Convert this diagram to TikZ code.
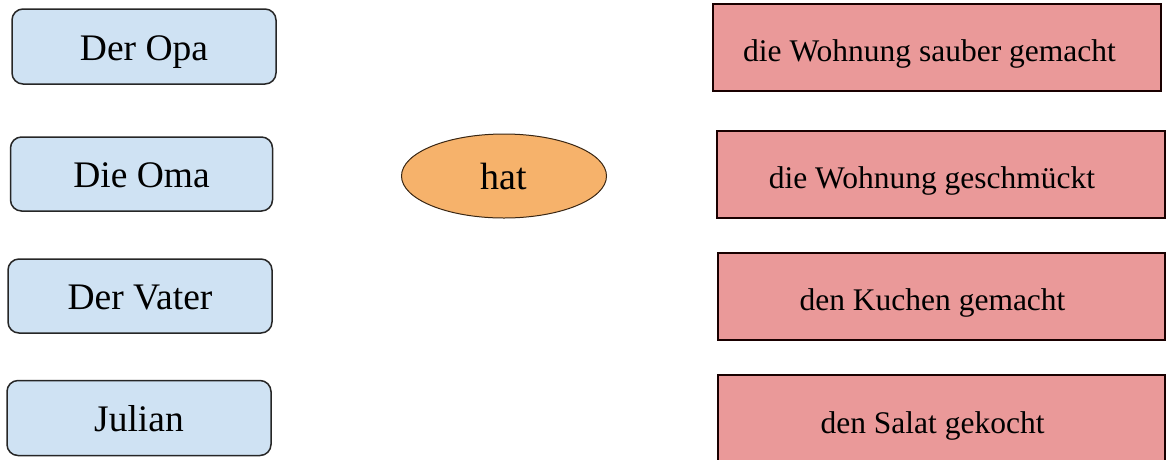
\documentclass[tikz,border=0pt]{standalone}
\usepackage{fontspec}
\setmainfont{Liberation Serif}
\usetikzlibrary{shapes.geometric}
\definecolor{subjblue}{HTML}{CFE2F3}
\definecolor{verborange}{HTML}{F6B26B}
\definecolor{objred}{HTML}{EA9999}
\tikzset{
  subj/.style={draw=black!85, line width=1.5pt, fill=subjblue, rounded corners=11pt,
    inner sep=0pt, text height=27pt, text depth=0pt, font=\fontsize{37.5}{40}\selectfont},
  verb/.style={ellipse, draw=black!70!brown, line width=1pt, fill=verborange,
    inner sep=0pt, minimum width=205pt, minimum height=84pt, font=\fontsize{38}{40}\selectfont},
  obj/.style={draw=black!90!red, line width=2pt, fill=objred,
    inner sep=0pt, text height=29pt, text depth=0pt, font=\fontsize{31.5}{36}\selectfont},
}
\begin{document}
\begin{tikzpicture}[x=1pt,y=-1pt]
\useasboundingbox (0,0) rectangle (1166,459);
% subjects
\node[subj, minimum width=264pt, minimum height=75pt] (opa) at (144,46.5) {Der Opa};
\node[subj, minimum width=262pt, minimum height=74pt] (oma) at (141.5,174) {Die Oma};
\node[subj, minimum width=264pt, minimum height=74pt] (vater) at (140,296) {Der Vater};
\node[subj, minimum width=264pt, minimum height=75pt] (julian) at (139,418) {Julian};
% verb
\node[verb] (hat) at (504,176) {hat};
% objects
\node[obj, minimum width=448pt, minimum height=87pt] (o1) at (937,47) {\hspace*{-15pt}die Wohnung sauber gemacht};
\node[obj, minimum width=448pt, minimum height=87pt] (o2) at (941,174) {\hspace*{-18pt}die Wohnung geschmückt};
\node[obj, minimum width=447pt, minimum height=87pt] (o3) at (941.5,296) {\hspace*{-18pt}den Kuchen gemacht};
\node[obj, minimum width=447pt, minimum height=87pt] (o4) at (941.5,418.5) {\hspace*{-18pt}den Salat gekocht};
\end{tikzpicture}
\end{document}
